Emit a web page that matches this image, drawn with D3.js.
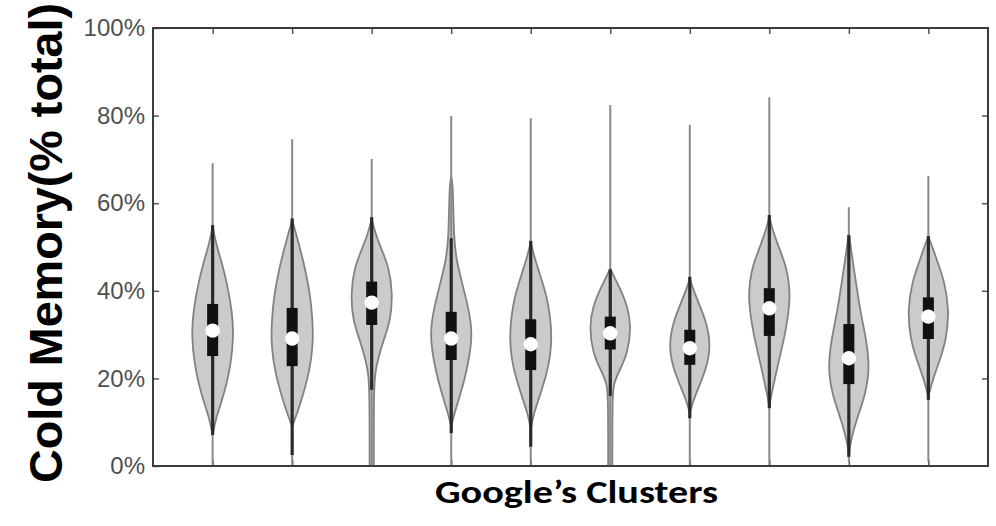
<!DOCTYPE html>
<html>
<head>
<meta charset="utf-8">
<script src="https://cdn.jsdelivr.net/npm/d3@7/dist/d3.min.js"></script>
<style>
  html, body { margin: 0; padding: 0; background: #fff; }
  svg { display: block; }
</style>
</head>
<body>
<svg id="chart" width="996" height="526"></svg>
<script>
// Cold memory share per cluster (percent of total)
const clusters    = [1, 2, 3, 4, 5, 6, 7, 8, 9, 10];
const maxVals     = [69.1, 74.6, 70.1, 79.9, 79.4, 82.4, 77.9, 84.2, 59.1, 66.2];
const whiskerHigh = [55.0, 56.5, 56.8, 52.0, 51.4, 44.9, 43.2, 57.3, 52.7, 52.5];
const q3Vals      = [37.0, 36.1, 42.1, 35.2, 33.5, 34.1, 31.1, 40.6, 32.4, 38.5];
const medianVals  = [30.9, 29.1, 37.3, 29.1, 27.8, 30.3, 26.9, 36.0, 24.6, 34.1];
const q1Vals      = [25.1, 22.8, 32.2, 24.2, 21.9, 26.6, 23.1, 29.7, 18.7, 29.0];
const whiskerLow  = [7.1, 2.5, 17.4, 7.5, 4.4, 16.0, 10.9, 13.2, 2.1, 15.1];
const minVals     = [0, 0, 0, 0, 0, 0, 0, 0, 1, 1];

// Kernel density outline per cluster: [value %, relative density]
const densities = [
  [[7,0],[10.8,0.15],[14.6,0.42],[18.4,0.65],[23.7,0.88],[29.8,1],[35.2,0.93],[41.3,0.7],[46.3,0.45],[50,0.2],[54.6,0]],
  [[9,0],[13.5,0.35],[19.6,0.72],[24,0.9],[28.8,1],[33,0.97],[38.7,0.88],[46.3,0.56],[51,0.3],[56.2,0]],
  [[0,0.1],[16,0.1],[21.2,0.15],[25,0.33],[28.8,0.57],[33.3,0.9],[39.4,1],[45.5,0.82],[50.1,0.41],[53.5,0.15],[56.5,0]],
  [[9,0],[12,0.15],[16.6,0.45],[21.2,0.72],[28.8,1],[33,0.93],[36.4,0.8],[42.5,0.48],[47,0.25],[52,0.12],[64,0.09],[66,0]],
  [[8.2,0],[11.3,0.1],[15.8,0.42],[21.2,0.77],[25,0.93],[29.5,1],[34,0.93],[38.7,0.77],[44,0.42],[48,0.15],[51.2,0]],
  [[0,0.1],[15,0.1],[18.9,0.15],[21.9,0.45],[25.7,0.83],[31.8,1],[36.4,0.83],[40.2,0.5],[43,0.2],[45.1,0]],
  [[12,0],[14.3,0.12],[18.1,0.43],[22.7,0.83],[28,1],[33.3,0.76],[37.1,0.43],[40.5,0.15],[42.8,0]],
  [[13.5,0],[15.8,0.08],[19.6,0.25],[24.2,0.46],[30.3,0.77],[37.9,1],[42,0.93],[45.5,0.81],[50.1,0.44],[54,0.15],[56.9,0]],
  [[2.9,0],[5.9,0.1],[10.5,0.36],[15.8,0.76],[21.9,1],[28.8,0.84],[34.9,0.56],[42.5,0.32],[48,0.15],[53.1,0]],
  [[15.8,0],[19.6,0.2],[24.2,0.55],[28.8,0.85],[35.6,1],[42.5,0.75],[46.3,0.45],[50,0.2],[52.4,0]]
];

const yTicks = [0, 20, 40, 60, 80, 100];
const yTitle = "Cold Memory(% total)";
const xTitle = "Google\u2019s Clusters";

const svg = d3.select("#chart");
const frame = { left: 153, right: 988, top: 28, bottom: 466 };

const x = d3.scaleLinear().domain([0.25, 10.75]).range([frame.left, frame.right]);
const y = d3.scaleLinear().domain([0, 100]).range([frame.bottom, frame.top]);
const w = d3.scaleLinear().domain([0, 1]).range([0, 21]);

// Axes: inward ticks, no domain path (frame drawn separately)
const leftAxis = d3.axisLeft(y).tickValues(yTicks).tickSize(-6).tickPadding(8)
  .tickFormat(d => d + "%");
const gL = svg.append("g").attr("transform", `translate(${frame.left},0)`).call(leftAxis);
gL.select(".domain").remove();
gL.selectAll(".tick line").attr("stroke", "#555").attr("stroke-width", 1.5);
gL.selectAll(".tick text").attr("fill", "#505050")
  .style("font-family", "'Liberation Sans', Arial, sans-serif").style("font-size", "24px");

const rightAxis = d3.axisRight(y).tickValues(yTicks.slice(1, -1)).tickSize(-6).tickFormat("");
const gR = svg.append("g").attr("transform", `translate(${frame.right},0)`).call(rightAxis);
gR.select(".domain").remove();
gR.selectAll(".tick line").attr("stroke", "#555").attr("stroke-width", 1.5);

const topAxis = d3.axisTop(x).tickValues(clusters).tickSize(-6).tickFormat("");
const gT = svg.append("g").attr("transform", `translate(0,${frame.top})`).call(topAxis);
gT.select(".domain").remove();
gT.selectAll(".tick line").attr("stroke", "#555").attr("stroke-width", 1.5);

const bottomAxis = d3.axisBottom(x).tickValues(clusters).tickSize(-6).tickFormat("");
const gB = svg.append("g").attr("transform", `translate(0,${frame.bottom})`).call(bottomAxis);
gB.select(".domain").remove();
gB.selectAll(".tick line").attr("stroke", "#555").attr("stroke-width", 1.5);

// Violins
const area = d3.area()
  .curve(d3.curveBasis)
  .y(d => y(d[0]));

const groups = svg.append("g").selectAll("g.violin")
  .data(clusters.map((c, i) => ({
    c, max: maxVals[i], wh: whiskerHigh[i], q3: q3Vals[i], med: medianVals[i],
    q1: q1Vals[i], wl: whiskerLow[i], min: minVals[i], dens: densities[i]
  })))
  .join("g").attr("class", "violin");

groups.append("path")
  .attr("d", d => area.x0(p => x(d.c) - w(p[1])).x1(p => x(d.c) + w(p[1]))(d.dens))
  .attr("fill", "#cbcbcb")
  .attr("stroke", "#828282")
  .attr("stroke-width", 1.8);

groups.append("line")
  .attr("x1", d => x(d.c)).attr("x2", d => x(d.c))
  .attr("y1", d => y(d.min)).attr("y2", d => y(d.max))
  .attr("stroke", "#8a8a8a").attr("stroke-width", 2);

groups.append("line")
  .attr("x1", d => x(d.c)).attr("x2", d => x(d.c))
  .attr("y1", d => y(d.wl)).attr("y2", d => y(d.wh))
  .attr("stroke", "#2a2a2a").attr("stroke-width", 3.2);

groups.append("rect")
  .attr("x", d => x(d.c) - 5.5).attr("width", 11)
  .attr("y", d => y(d.q3)).attr("height", d => y(d.q1) - y(d.q3))
  .attr("fill", "#111");

groups.append("circle")
  .attr("cx", d => x(d.c)).attr("cy", d => y(d.med)).attr("r", 7.2)
  .attr("fill", "#fff");

// Plot frame
svg.append("rect")
  .attr("x", frame.left).attr("y", frame.top)
  .attr("width", frame.right - frame.left).attr("height", frame.bottom - frame.top)
  .attr("fill", "none").attr("stroke", "#3c3c3c").attr("stroke-width", 2);

// Titles
svg.append("text")
  .attr("transform", `translate(62,243) rotate(-90)`)
  .attr("text-anchor", "middle")
  .attr("textLength", 480).attr("lengthAdjust", "spacingAndGlyphs")
  .style("font-family", "'Liberation Sans', Arial, sans-serif")
  .style("font-weight", "bold").style("font-size", "47px")
  .attr("fill", "#000")
  .text(yTitle);

svg.append("text")
  .attr("x", 576.5).attr("y", 503)
  .attr("text-anchor", "middle")
  .attr("textLength", 283).attr("lengthAdjust", "spacingAndGlyphs")
  .style("font-family", "Carlito, Calibri, Lato, 'Open Sans', sans-serif")
  .style("font-weight", "bold").style("font-size", "33px")
  .attr("fill", "#000")
  .text(xTitle);
</script>
</body>
</html>
